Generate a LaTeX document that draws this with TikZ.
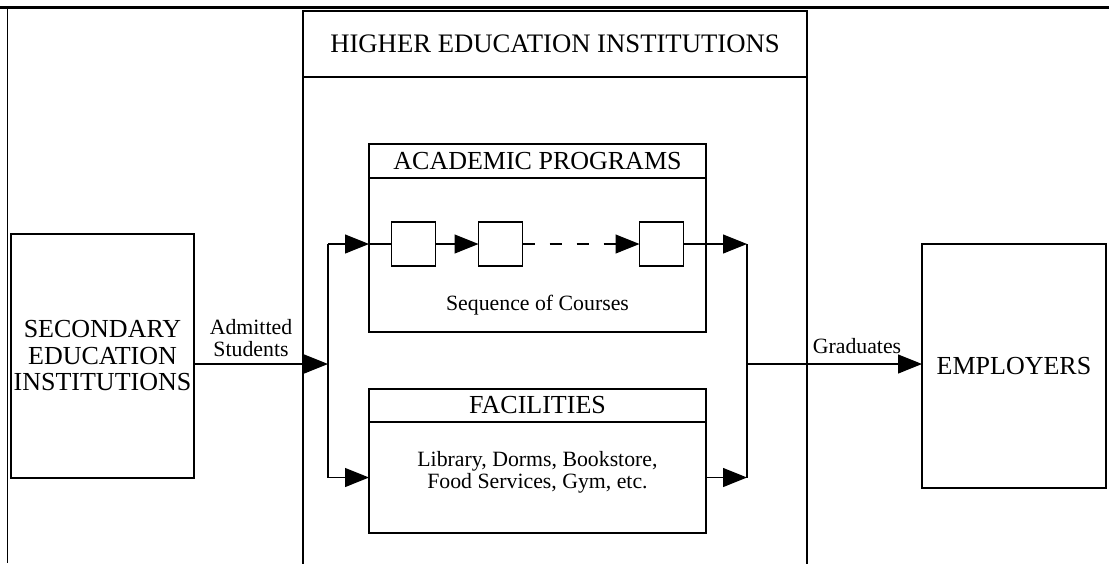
\documentclass[tikz,border=0pt]{standalone}
\usepackage{fontspec}
\setmainfont{Liberation Serif}
\usetikzlibrary{arrows.meta}
\begin{document}
\begin{tikzpicture}[x=1pt,y=-1pt,line width=1.2pt,
  box/.style={draw,inner sep=0pt,outer sep=0pt},
  big/.style={font=\fontsize{26}{26.5}\selectfont,align=center},
  small/.style={font=\fontsize{21.8}{22}\selectfont,align=center,inner sep=0pt},
  arr/.style={-{Triangle[length=24pt,width=19pt]}},
  dsh/.style={dash pattern=on 12pt off 15pt}]
\useasboundingbox (0,0) rectangle (1109,563);
\clip (0,0) rectangle (1109,563);
% frame lines
\draw[line width=3pt] (0,7.8) -- (1109,7.8);
\draw[line width=1pt] (7.3,7.8) -- (7.3,563);
% higher education institutions
\node[box,big,font=\fontsize{26.7}{27}\selectfont,minimum width=504pt,minimum height=66pt] (heit) at (555,44) {HIGHER EDUCATION INSTITUTIONS};
\node[box,minimum width=504pt,minimum height=520pt,anchor=north] (heib) at (555,77) {};
% academic programs
\node[box,big,minimum width=337pt,minimum height=34pt] (apt) at (537.5,161) {ACADEMIC PROGRAMS};
\node[box,minimum width=337pt,minimum height=154pt] (apb) at (537.5,255) {};
\node[box,minimum size=44pt] (c1) at (413.5,244) {};
\node[box,minimum size=44pt] (c2) at (500.5,244) {};
\node[box,minimum size=44pt] (c3) at (661.5,244) {};
\node[small] (seq) at (537.5,305) {Sequence of Courses};
% facilities
\node[box,big,minimum width=337pt,minimum height=33pt] (fact) at (537.5,405.5) {FACILITIES};
\node[box,minimum width=337pt,minimum height=111pt] (facb) at (537.5,477.5) {};
\node[small] (facx) at (537.5,472) {Library, Dorms, Bookstore,\\Food Services, Gym, etc.};
% outside boxes
\node[box,big,minimum width=183pt,minimum height=244pt] (sei) at (102.5,356) {SECONDARY\\EDUCATION\\INSTITUTIONS};
\node[box,big,minimum width=184pt,minimum height=244pt] (emp) at (1014,366) {EMPLOYERS};
% labels
\node[small] (adm) at (251,338) {Admitted\\Students};
\node[small] (grad) at (857,346) {Graduates};
% junctions
\coordinate (jl1) at (328,244);
\coordinate (jl2) at (328,477.5);
\coordinate (jin) at (328,364);
\coordinate (jr1) at (747,244);
\coordinate (jr2) at (747,477.5);
\coordinate (jout) at (747,364);
% connectors
\draw[arr] (sei.east |- jin) -- (jin);
\draw (jl1) -- (jl2);
\draw[arr] (jl1) -- (apb.west |- jl1);
\draw (apb.west |- c1) -- (c1.west);
\draw[arr] (c1.east) -- (c2.west);
\draw[arr,dsh] (c2.east) -- (c3.west);
\draw (c3.east) -- (apb.east |- c3);
\draw[arr] (apb.east |- c3) -- (jr1);
\draw[arr] (jl2) -- (facb.west |- jl2);
\draw[arr] (facb.east |- jr2) -- (jr2);
\draw (jr1) -- (jr2);
\draw[arr] (jout) -- (emp.west |- jout);
\end{tikzpicture}
\end{document}
